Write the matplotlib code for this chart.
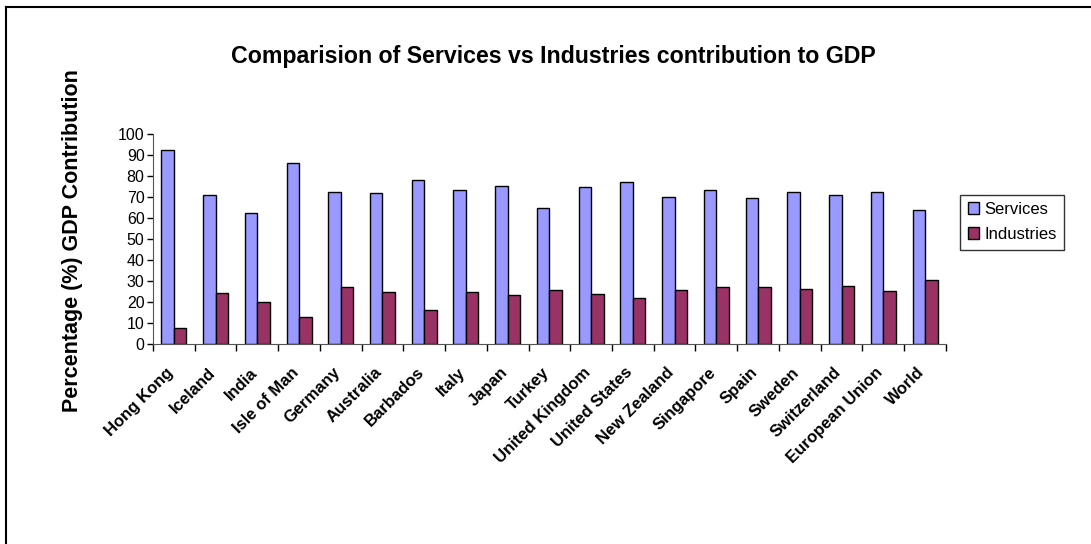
import numpy as np
import matplotlib.pyplot as plt
import matplotlib.transforms as mtransforms
from matplotlib.lines import Line2D

countries = ["Hong Kong", "Iceland", "India", "Isle of Man", "Germany", "Australia",
             "Barbados", "Italy", "Japan", "Turkey", "United Kingdom", "United States",
             "New Zealand", "Singapore", "Spain", "Sweden", "Switzerland",
             "European Union", "World"]
services = [92.5, 71.0, 62.5, 86.2, 72.2, 71.7, 78.1, 73.2, 75.2, 64.6, 74.8, 77.0,
            70.0, 73.2, 69.5, 72.2, 71.1, 72.2, 63.8]
industries = [7.6, 24.3, 20.0, 13.0, 27.0, 24.8, 16.2, 24.8, 23.2, 25.9, 23.8, 22.1,
              25.9, 27.0, 27.0, 26.3, 27.4, 25.1, 30.4]

plt.rcParams['font.family'] = ['Liberation Sans', 'DejaVu Sans']

fig = plt.figure(figsize=(10.91, 5.44), dpi=100)
ax = fig.add_axes([0.1402, 0.3676, 0.867 - 0.1402, 0.7537 - 0.3676])

x = np.arange(len(countries))
w = 0.3
ax.bar(x - w / 2, services, w, color="#9999FF", edgecolor="black", linewidth=1, label="Services")
ax.bar(x + w / 2, industries, w, color="#993366", edgecolor="black", linewidth=1, label="Industries")

ax.set_xlim(-0.5, len(countries) - 0.5)
ax.set_ylim(0, 100)
ax.set_yticks(np.arange(0, 101, 10))
ax.tick_params(axis="y", labelsize=11.5, length=4, width=1, direction="out", pad=2)

ax.set_xticks(x)
ax.set_xticklabels(countries, rotation=45, ha="right", rotation_mode="anchor",
                   fontsize=12, fontweight="bold")
ax.tick_params(axis="x", which="major", length=0, pad=15)
shift = mtransforms.ScaledTranslation(-8 / 100, 0, fig.dpi_scale_trans)
for lab in ax.get_xticklabels():
    lab.set_transform(lab.get_transform() + shift)
ax.set_xticks(np.arange(-0.5, len(countries), 1), minor=True)
ax.tick_params(axis="x", which="minor", length=5, width=1, direction="out")

for s in ["top", "right"]:
    ax.spines[s].set_visible(False)
ax.spines["left"].set_color("#555555")
ax.spines["bottom"].set_color("#555555")

fig.text(553 / 1091, 1 - 57 / 544, "Comparision of Services vs Industries contribution to GDP",
         ha="center", va="center", fontsize=16.7, fontweight="bold")
fig.text(73 / 1091, 1 - 241 / 544, "Percentage (%) GDP Contribution", rotation=90,
         ha="center", va="center", fontsize=15.5, fontweight="bold")

leg = fig.legend(loc="center left", bbox_to_anchor=(960 / 1091, 1 - 222 / 544),
                 fontsize=12, frameon=True, fancybox=False, handlelength=0.7,
                 handleheight=0.7, handletextpad=0.3, borderpad=0.45, labelspacing=0.6,
                 borderaxespad=0)
leg.get_frame().set_edgecolor("black")
leg.get_frame().set_linewidth(1)

# outer frame (top and left edges)
fig.add_artist(Line2D([6 / 1091, 1], [1 - 7 / 544, 1 - 7 / 544], color="black", lw=1.5))
fig.add_artist(Line2D([6 / 1091, 6 / 1091], [0, 1 - 7 / 544], color="black", lw=1.5))

fig.savefig("out.png", dpi=100)
